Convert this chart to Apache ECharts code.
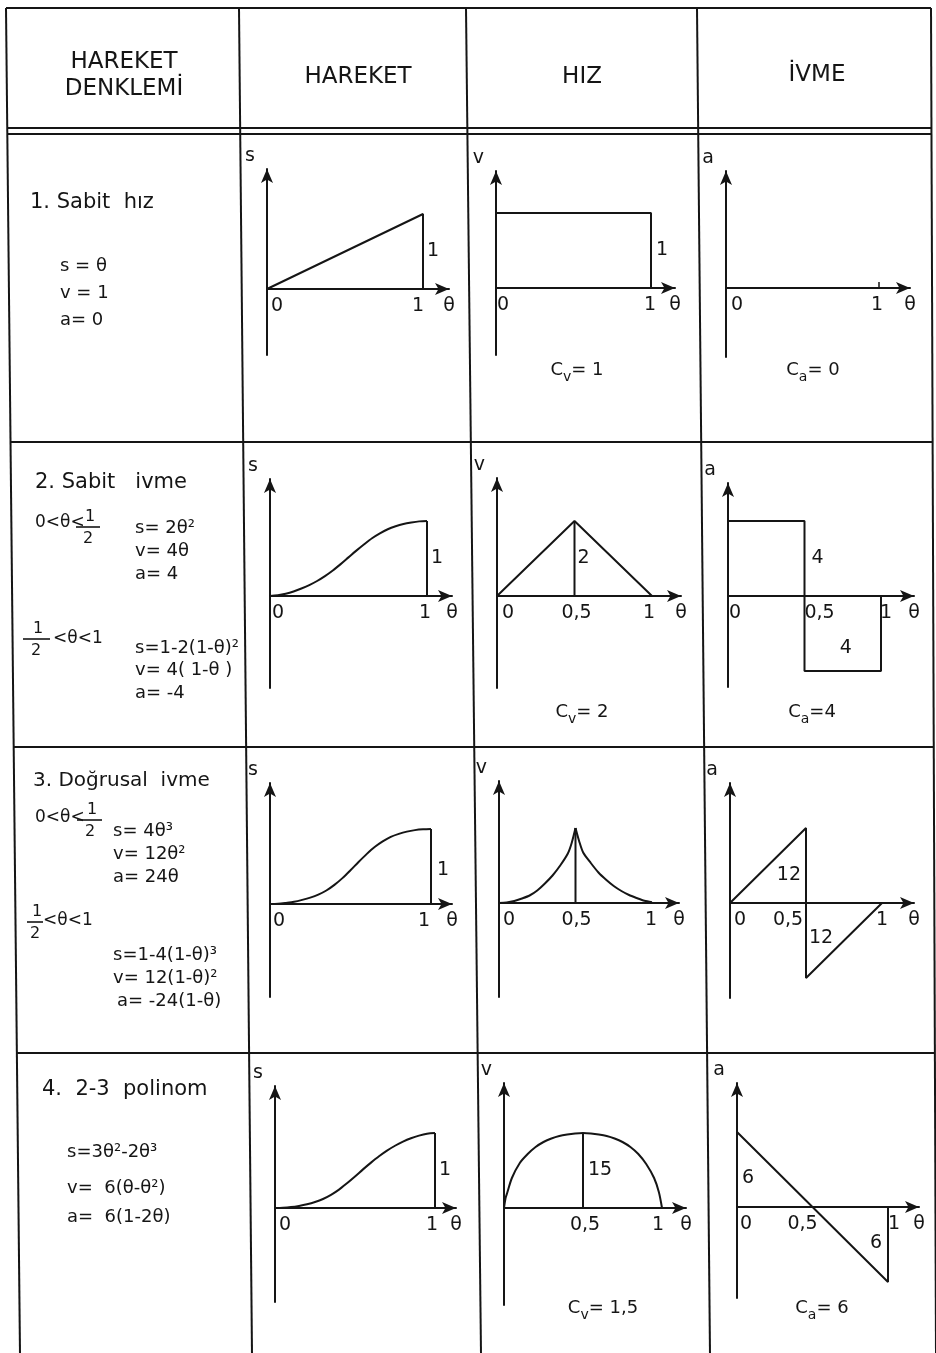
<!DOCTYPE html>
<html>
<head>
<meta charset="utf-8">
<script src="https://cdn.jsdelivr.net/npm/echarts@6/dist/echarts.min.js"></script>
<style>
  html, body { margin: 0; padding: 0; background: #fff; }
  #chart { width: 936px; height: 1353px; }
</style>
</head>
<body>
<div id="chart"></div>
<script>
// ---- texts ----
const headers = ['HAREKET', 'HIZ', 'İVME']
const firstHeader = ['HAREKET', 'DENKLEMİ']
const motionTitles = ['1. Sabit  hız', '2. Sabit   ivme', '3. Doğrusal  ivme', '4.  2-3  polinom']
const eqConstVel = ['s = θ', 'v = 1', 'a= 0']
const eqConstAccA = ['s= 2θ²', 'v= 4θ', 'a= 4']
const eqConstAccB = ['s=1-2(1-θ)²', 'v= 4( 1-θ )', 'a= -4']
const eqLinAccA = ['s= 4θ³', 'v= 12θ²', 'a= 24θ']
const eqLinAccB = ['s=1-4(1-θ)³', 'v= 12(1-θ)²', 'a= -24(1-θ)']
const eqPoly = ['s=3θ²-2θ³', 'v=  6(θ-θ²)', 'a=  6(1-2θ)']
const rangeLower = '0<θ<'
const rangeUpper = '<θ<1'
const coefLabels = [['v', '= 1'], ['a', '= 0'], ['v', '= 2'], ['a', '=4'], null, null, ['v', '= 1,5'], ['a', '= 6']]
const axisNames = ['s', 'v', 'a']

// ---- data ----
const thetaFine = [0, 0.05, 0.1, 0.15, 0.2, 0.25, 0.3, 0.35, 0.4, 0.45, 0.5,
  0.55, 0.6, 0.65, 0.7, 0.75, 0.8, 0.85, 0.9, 0.95, 1]
const sConstAcc = [0, 0.01, 0.03, 0.06, 0.1, 0.145, 0.2, 0.265, 0.34, 0.425, 0.515,
  0.605, 0.69, 0.77, 0.835, 0.89, 0.93, 0.96, 0.98, 0.995, 1]
const sLinAcc = [0, 0.003, 0.015, 0.03, 0.055, 0.085, 0.125, 0.18, 0.255, 0.345, 0.45,
  0.56, 0.665, 0.76, 0.835, 0.895, 0.935, 0.965, 0.985, 0.996, 1]
const sPoly = [0, 0.003, 0.012, 0.028, 0.05, 0.08, 0.12, 0.175, 0.245, 0.33, 0.42,
  0.515, 0.605, 0.69, 0.765, 0.83, 0.885, 0.93, 0.965, 0.99, 1]
const thetaCusp = [0, 0.05, 0.1, 0.15, 0.2, 0.25, 0.3, 0.35, 0.4, 0.45, 0.475, 0.5,
  0.525, 0.55, 0.6, 0.65, 0.7, 0.75, 0.8, 0.85, 0.9, 0.95, 1]
const vLinAcc = [0, 0.02, 0.08, 0.18, 0.3, 0.5, 0.78, 1.1, 1.5, 1.98, 2.4, 3,
  2.45, 2.02, 1.6, 1.22, 0.93, 0.68, 0.48, 0.32, 0.2, 0.09, 0.03]
const thetaArc = [0, 0.01, 0.02, 0.05, 0.1, 0.15, 0.2, 0.25, 0.3, 0.35, 0.4, 0.45, 0.5,
  0.55, 0.6, 0.65, 0.7, 0.75, 0.8, 0.85, 0.9, 0.95, 0.98, 1]
const vPoly = [0, 0.2, 0.3, 0.6, 0.9, 1.08, 1.22, 1.32, 1.39, 1.44, 1.47, 1.49, 1.5,
  1.49, 1.47, 1.44, 1.39, 1.32, 1.22, 1.08, 0.88, 0.6, 0.32, 0]

const sConstVel = [[0, 0], [1, 1], [1, 0]]
const vConstVel = [[0, 1], [1, 1], [1, 0]]
const vConstAcc = [[0, 0], [0.5, 2], [1, 0]]
const aConstAcc = [[0, 4], [0.5, 4], [0.5, -4], [1, -4], [1, 0]]
const aLinAcc = [[0, 0], [0.5, 12], [0.5, -12], [1, 0]]
const aPoly = [[0, 6], [1, -6], [1, 0]]
const endDrop = [[1, 1], [1, 0]]
const midConstAcc = [[0.5, 0], [0.5, 2]]
const midLinAcc = [[0.5, 0], [0.5, 3]]
const midPoly = [[0.5, 0], [0.5, 1.5]]

// value drawn as the full height in each chart (row by row: s, v, a)
const peaks = [[1, 1, 1], [1, 2, 4], [1, 3, 12], [1, 1.5, 6]]

// x axis labels shown per chart
const xTicks = [
  [0, 1], [0, 1], [0, 1],
  [0, 1], [0, 0.5, 1], [0, 0.5, 1],
  [0, 1], [0, 0.5, 1], [0, 0.5, 1],
  [0, 1], [0.5, 1], [0, 0.5, 1]
]
// dimension notes [θ, value, text]
const notes = [
  [[1, 0.5, '1']], [[1, 0.5, '1']], [],
  [[1, 0.5, '1']], [[0.5, 1, '2']], [[0.5, 2, '4'], [0.77, -2.8, '4']],
  [[1, 0.45, '1']], [], [[0.5, 4.5, '12'], [0.5, -5.6, '12']],
  [[1, 0.5, '1']], [[0.5, 0.75, '15']], [[0, 2.35, '6'], [1, -2.9, '6']]
]

// ---- layout (pixels) ----
// per chart: axis x, x of θ=1, arrow tip x, origin y, arrow tip y, axis bottom y
const layout = [
  [267, 423, 455, 289, 163, 355], [496, 651, 681, 288, 165, 355], [726, 879, 916, 288, 165, 357],
  [270, 427, 458, 596, 473, 688], [497, 652, 687, 596, 472, 688], [728, 881, 920, 596, 477, 687],
  [270, 431, 458, 904, 777, 997], [499, 652, 685, 903, 775, 997], [730, 882, 920, 903, 777, 998],
  [275, 435, 462, 1208, 1080, 1302], [504, 662, 692, 1208, 1077, 1305], [737, 888, 925, 1207, 1077, 1298]
]
const labelShift = [
  { 0: 10, 1: -5 }, { 0: 7, 1: -1 }, { 0: 11, 1: -2 },
  { 0: 8, 1: -2 }, { 0: 11, 0.5: 2, 1: -3 }, { 0: 7, 0.5: 15, 1: 5 },
  { 0: 9, 1: -7 }, { 0: 10, 0.5: 1, 1: -1 }, { 0: 10, 0.5: -18, 1: 0 },
  { 0: 10, 1: -3 }, { 0.5: 2, 1: -4 }, { 0: 9, 0.5: -10, 1: 6 }
]
const notePlacement = [
  [['right', 4]], [['right', 5]], [],
  [['right', 4]], [['right', 3]], [['right', 7], ['inside', 0]],
  [['right', 6]], [], [['left', 5], ['right', 3]],
  [['right', 4]], [['right', 5]], [['right', 5], ['left', 6]]
]

const INK = '#151515'
const FONT = 'DejaVu Sans'
const ARROW = 6
const UNIT = 75
const LABEL = 19

const grids = []
const xAxes = []
const yAxes = []
const series = []

function addLine(i, data, smooth) {
  series.push({
    type: 'line', xAxisIndex: i, yAxisIndex: i, data,
    smooth: smooth || false, showSymbol: false, symbol: 'none',
    lineStyle: { color: INK, width: 2 }, silent: true
  })
}

layout.forEach((L, i) => {
  const [ax, x1, xe, oy, ty, by] = L
  const P = peaks[Math.floor(i / 3)][i % 3]
  const top = ty + ARROW
  const right = xe - ARROW
  grids.push({ left: ax, top, width: right - ax, height: by - top, outerBoundsMode: 'none' })

  const shifts = labelShift[i]
  const rich = {}
  xTicks[i].forEach((v, k) => {
    const s = shifts[v] || 0
    rich['k' + k] = {
      fontSize: LABEL, fontFamily: FONT, color: INK,
      padding: s > 0 ? [0, 0, 0, 2 * s] : [0, -2 * s, 0, 0]
    }
  })
  xAxes.push({
    gridIndex: i, type: 'value', min: 0, max: (right - ax) / (x1 - ax), interval: 0.5,
    position: 'bottom', offset: -(by - oy),
    name: 'θ', nameLocation: 'end', nameGap: 0,
    nameTextStyle: { fontSize: LABEL, fontFamily: FONT, color: INK, align: 'center', verticalAlign: 'top', padding: [8, 0, 0, 0] },
    axisLine: { onZero: false, symbol: ['none', 'arrow'], symbolSize: [9, 14], lineStyle: { color: INK, width: 2 } },
    axisTick: i === 2
      ? { show: true, customValues: [1], length: 6, inside: true, lineStyle: { color: INK, width: 1.5 } }
      : { show: false },
    splitLine: { show: false },
    axisLabel: {
      show: true, margin: 8, customValues: xTicks[i],
      formatter: (v) => {
        const k = xTicks[i].findIndex(t => Math.abs(t - v) < 1e-6)
        if (k < 0) return ''
        return '{k' + k + '|' + String(v).replace('.', ',') + '}'
      },
      rich
    }
  })
  yAxes.push({
    gridIndex: i, type: 'value', max: P * (oy - top) / UNIT, min: -P * (by - oy) / UNIT,
    position: 'left',
    name: axisNames[i % 3], nameLocation: 'end', nameGap: 3,
    nameTextStyle: { fontSize: LABEL, fontFamily: FONT, color: INK, align: 'right', verticalAlign: 'bottom', padding: [0, 12, 0, 0] },
    axisLine: { onZero: false, symbol: ['none', 'arrow'], symbolSize: [9, 14], lineStyle: { color: INK, width: 2 } },
    axisTick: { show: false }, axisLabel: { show: false }, splitLine: { show: false }
  })

  if (notes[i].length) {
    series.push({
      type: 'scatter', xAxisIndex: i, yAxisIndex: i, symbolSize: 0, silent: true,
      itemStyle: { color: INK, opacity: 1 },
      data: notes[i].map((n, k) => ({
        value: [n[0], n[1]],
        label: {
          show: true, formatter: n[2], position: notePlacement[i][k][0], distance: notePlacement[i][k][1],
          fontSize: LABEL, fontFamily: FONT, color: INK, opacity: 1, textBorderWidth: 0
        }
      }))
    })
  }
})

const pair = (xs, ys) => xs.map((t, k) => [t, ys[k]])

// row 1: constant velocity
addLine(0, sConstVel)
addLine(1, vConstVel)
// row 2: constant acceleration
addLine(3, pair(thetaFine, sConstAcc), 0.3)
addLine(3, endDrop)
addLine(4, vConstAcc)
addLine(4, midConstAcc)
addLine(5, aConstAcc)
// row 3: linear acceleration
addLine(6, pair(thetaFine, sLinAcc), 0.3)
addLine(6, endDrop)
const cusp = pair(thetaCusp, vLinAcc)
addLine(7, cusp.filter(p => p[0] <= 0.5), 0.25)
addLine(7, cusp.filter(p => p[0] >= 0.5), 0.25)
addLine(7, midLinAcc)
addLine(8, aLinAcc)
// row 4: 2-3 polynomial
addLine(9, pair(thetaFine, sPoly), 0.3)
addLine(9, endDrop)
addLine(10, pair(thetaArc, vPoly), 0.3)
addLine(10, midPoly)
addLine(11, aPoly)

// ---- table frame & texts ----
const graphic = []
const leftX = (y) => 6 + 14 * (y - 8) / 1345
const rightX = (y) => 931 + 5 * (y - 8) / 1345
const stroke = { stroke: INK, lineWidth: 2 }

;[[6, 20], [239, 252], [466, 481], [697, 710], [931, 936]].forEach(([a, b]) => {
  graphic.push({ type: 'line', shape: { x1: a, y1: 8, x2: b, y2: 1353 }, style: stroke, silent: true })
})
;[8, 128, 134, 442, 747, 1053].forEach((y) => {
  graphic.push({ type: 'line', shape: { x1: leftX(y), y1: y, x2: rightX(y), y2: y }, style: stroke, silent: true })
})

function txt(text, x, y, size, align) {
  graphic.push({
    type: 'text', x, y, silent: true,
    style: {
      text, fill: INK, font: size + 'px "' + FONT + '"',
      align: align || 'left', verticalAlign: 'middle',
      textAlign: align || 'left', textVerticalAlign: 'middle'
    }
  })
}
function frac(cx, barY, x0, x1) {
  txt('1', cx + 1, barY - 10, 16, 'center')
  graphic.push({ type: 'line', shape: { x1: x0, y1: barY, x2: x1, y2: barY }, style: { stroke: INK, lineWidth: 1.6 }, silent: true })
  txt('2', cx - 1, barY + 12, 16, 'center')
}

// header
txt(firstHeader[0], 124, 62, 23, 'center')
txt(firstHeader[1], 124, 89, 23, 'center')
txt(headers[0], 358, 77, 23, 'center')
txt(headers[1], 582, 77, 23, 'center')
txt(headers[2], 817, 75, 23, 'center')

// row 1
txt(motionTitles[0], 30, 203, 21)
eqConstVel.forEach((t, k) => txt(t, 60, 266 + 27 * k, 18))
// row 2
txt(motionTitles[1], 35, 483, 21)
txt(rangeLower, 35, 523, 17)
frac(89, 527, 76, 100)
eqConstAccA.forEach((t, k) => txt(t, 135, 528 + 23 * k, 18))
frac(37, 639, 23, 50)
txt(rangeUpper, 53, 639, 17)
eqConstAccB.forEach((t, k) => txt(t, 135, 648 + 22.5 * k, 18))
// row 3
txt(motionTitles[2], 33, 781, 20)
txt(rangeLower, 35, 818, 17)
frac(91, 820, 77, 102)
eqLinAccA.forEach((t, k) => txt(t, 113, 831 + 23 * k, 18))
frac(36, 922, 27, 43)
txt(rangeUpper, 43, 921, 17)
eqLinAccB.forEach((t, k) => txt(t, 113 + (k === 2 ? 4 : 0), 955 + 23 * k, 18))
// row 4
txt(motionTitles[3], 42, 1090, 21)
eqPoly.forEach((t, k) => txt(t, 67, 1152 + (k === 0 ? 0 : k === 1 ? 36 : 65), 18))

// C_v / C_a coefficients
const coefPos = [[577, 370], [813, 370], [582, 712], [812, 712], null, null, [603, 1308], [822, 1308]]
coefLabels.forEach((c, k) => {
  if (!c) return
  const [x, y] = coefPos[k]
  graphic.push({
    type: 'text', x, y, silent: true,
    style: {
      text: '{c|C}{s|' + c[0] + '}{c|' + c[1] + '}',
      align: 'center', verticalAlign: 'middle', textAlign: 'center', textVerticalAlign: 'middle',
      rich: {
        c: { fontSize: 18, fontFamily: FONT, fill: INK, color: INK, lineHeight: 28, verticalAlign: 'middle' },
        s: { fontSize: 14, fontFamily: FONT, fill: INK, color: INK, lineHeight: 28, verticalAlign: 'bottom' }
      }
    }
  })
})

const chart = echarts.init(document.getElementById('chart'), null, { renderer: 'canvas' })
chart.setOption({
  animation: false,
  backgroundColor: '#fff',
  textStyle: { fontFamily: FONT, color: INK },
  grid: grids,
  xAxis: xAxes,
  yAxis: yAxes,
  series,
  graphic
})
</script>
</body>
</html>
